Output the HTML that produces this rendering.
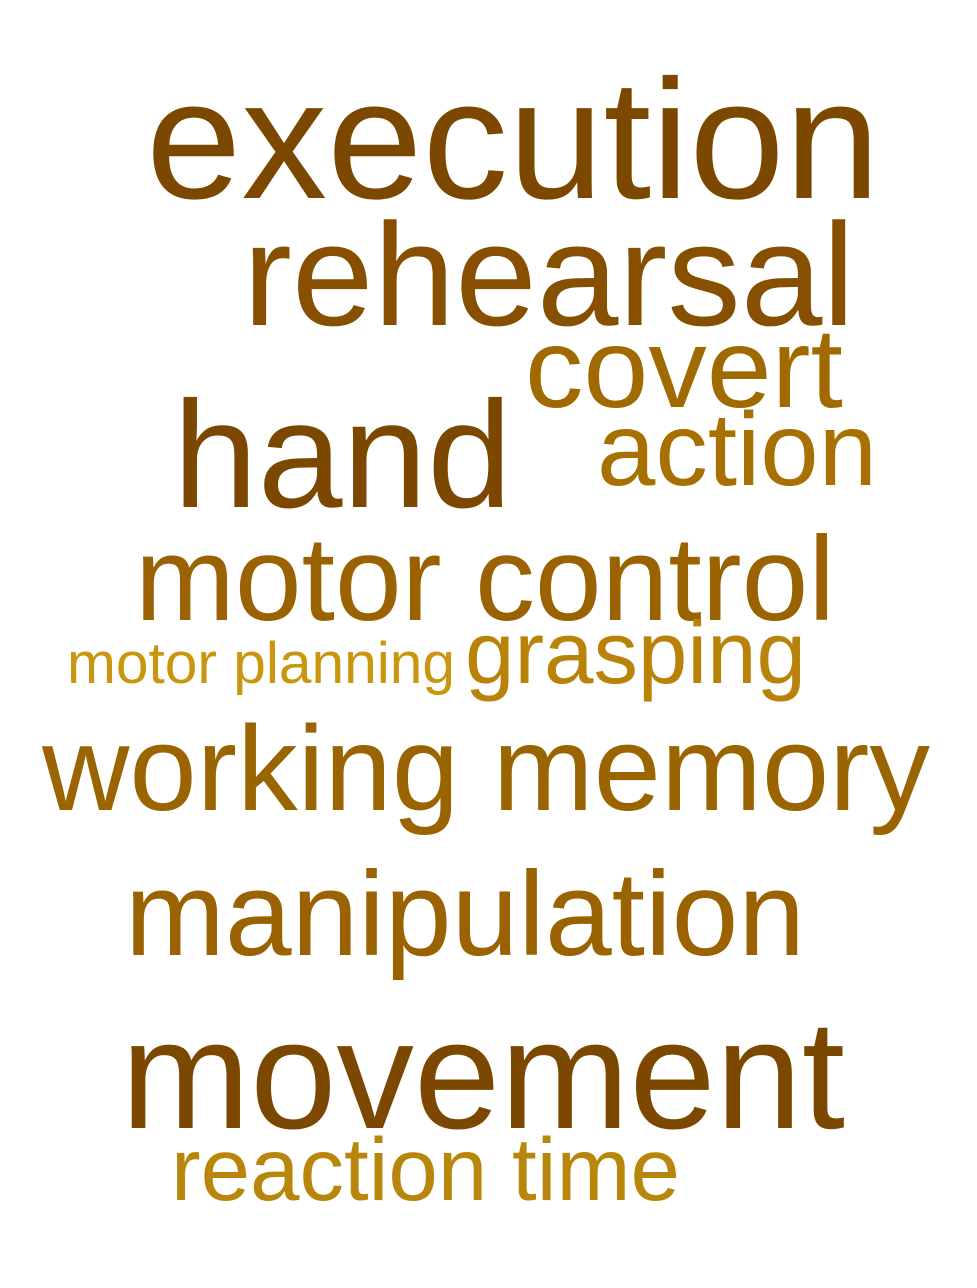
<!DOCTYPE html>
<html><head><meta charset="utf-8"><style>
html,body{margin:0;padding:0;background:#fff;}
svg{display:block;}
text{font-family:"Liberation Sans",Arial,sans-serif;}
</style></head><body>
<svg width="977" height="1288" viewBox="0 0 977 1288">
<rect width="977" height="1288" fill="#fff"/>
<text x="146" y="198" font-size="170" fill="#7c4800" textLength="734" lengthAdjust="spacingAndGlyphs">execution</text>
<text x="243" y="325" font-size="146" fill="#865000" textLength="612" lengthAdjust="spacingAndGlyphs">rehearsal</text>
<text x="525" y="407" font-size="113" fill="#a06a00" textLength="318" lengthAdjust="spacingAndGlyphs">covert</text>
<text x="597" y="485" font-size="104" fill="#a87000" textLength="280" lengthAdjust="spacingAndGlyphs">action</text>
<text x="173" y="507" font-size="152" fill="#7c4800" textLength="339" lengthAdjust="spacingAndGlyphs">hand</text>
<text x="135" y="620" font-size="120" fill="#9a6200" textLength="700" lengthAdjust="spacingAndGlyphs">motor control</text>
<text x="67" y="683" font-size="58" fill="#c8960f" textLength="388" lengthAdjust="spacingAndGlyphs">motor planning</text>
<text x="465" y="683" font-size="88" fill="#b88308" textLength="341" lengthAdjust="spacingAndGlyphs">grasping</text>
<text x="42" y="810" font-size="121" fill="#9a6400" textLength="888" lengthAdjust="spacingAndGlyphs">working memory</text>
<text x="125" y="955" font-size="120" fill="#9a6200" textLength="680" lengthAdjust="spacingAndGlyphs">manipulation</text>
<text x="121" y="1128" font-size="155" fill="#7c4800" textLength="724" lengthAdjust="spacingAndGlyphs">movement</text>
<text x="171" y="1200" font-size="89" fill="#b8860b" textLength="509" lengthAdjust="spacingAndGlyphs">reaction time</text>
</svg>
</body></html>
